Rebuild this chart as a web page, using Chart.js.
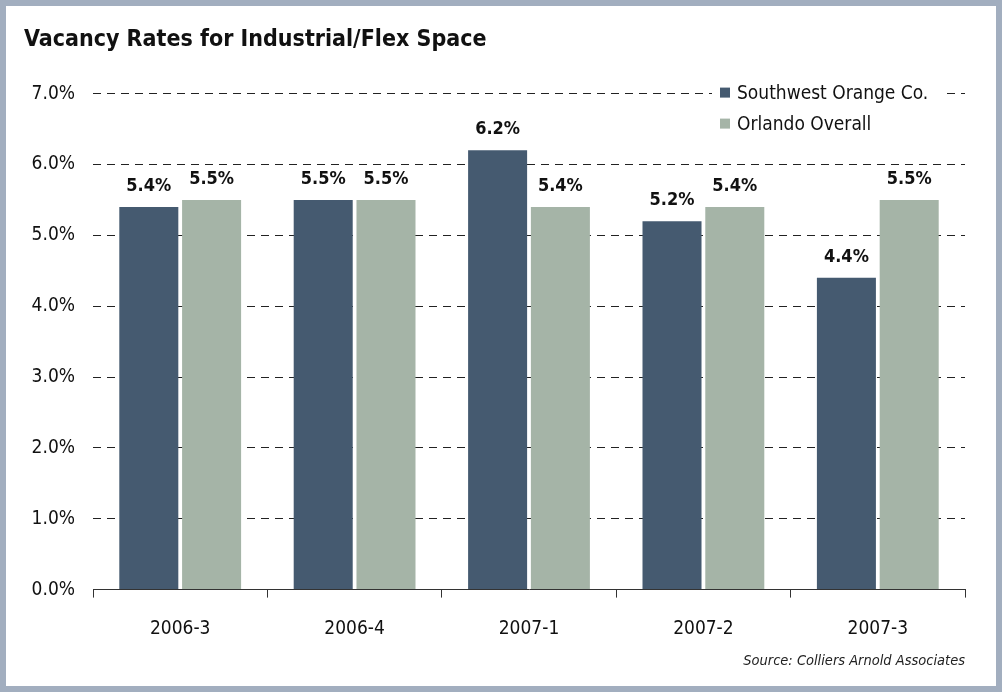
<!DOCTYPE html>
<html>
<head>
<meta charset="utf-8">
<script src="https://cdn.jsdelivr.net/npm/chart.js@4"></script>
<style>
  html, body { margin: 0; padding: 0; background: #fff; }
  #frame {
    width: 990px; height: 680px;
    border: 6px solid #a2aebf;
    background: #fff;
  }
  canvas { display: block; }
</style>
</head>
<body>
<div id="frame"><canvas id="vacancyChart" width="990" height="680"></canvas></div>
<script>
const quarters = ["2006-3", "2006-4", "2007-1", "2007-2", "2007-3"];
const southwestOrange = [5.4, 5.5, 6.2, 5.2, 4.4];
const orlandoOverall = [5.5, 5.5, 5.4, 5.4, 5.5];
const seriesNames = ["Southwest Orange Co.", "Orlando Overall"];
const seriesColors = ["#455a70", "#a5b4a7"];

const FONT = "'Liberation Sans Narrow', 'DejaVu Sans Condensed', 'Liberation Sans', sans-serif";

// value labels over each bar
const barLabels = {
  id: "barLabels",
  afterDatasetsDraw(chart) {
    const ctx = chart.ctx;
    ctx.save();
    ctx.font = "bold 18px " + FONT;
    ctx.fillStyle = "#111";
    ctx.textAlign = "center";
    ctx.textBaseline = "bottom";
    chart.data.datasets.forEach((ds, i) => {
      chart.getDatasetMeta(i).data.forEach((bar, j) => {
        ctx.fillText(ds.data[j].toFixed(1) + "%", bar.x, bar.y - 12);
      });
    });
    ctx.restore();
  }
};

// legend box sitting on top of the grid, upper right of the plot
const boxLegend = {
  id: "boxLegend",
  afterDraw(chart) {
    const ctx = chart.ctx;
    const area = chart.chartArea;
    const left = area.left + 627;
    const top = area.top - 12;
    ctx.save();
    ctx.font = "19px " + FONT;
    const w = Math.max(...chart.data.datasets.map(d => ctx.measureText(d.label).width)) + 30;
    ctx.fillStyle = "#fff";
    ctx.fillRect(left - 8, top, w + 10, 60);
    ctx.textBaseline = "middle";
    chart.data.datasets.forEach((ds, i) => {
      const y = top + 11 + i * 31;
      ctx.fillStyle = ds.backgroundColor;
      ctx.fillRect(left, y - 5, 10, 10);
      ctx.fillStyle = "#111";
      ctx.fillText(ds.label, left + 17, y + 1);
    });
    ctx.restore();
  }
};

new Chart(document.getElementById("vacancyChart"), {
  type: "bar",
  data: {
    labels: quarters,
    datasets: [
      { label: seriesNames[0], data: southwestOrange, backgroundColor: seriesColors[0] },
      { label: seriesNames[1], data: orlandoOverall, backgroundColor: seriesColors[1] }
    ]
  },
  options: {
    responsive: false,
    animation: false,
    layout: { padding: { left: 18, right: 31, top: 0, bottom: 0 } },
    datasets: { bar: { categoryPercentage: 0.72, barPercentage: 0.94 } },
    plugins: {
      legend: { display: false },
      tooltip: { enabled: false },
      title: {
        display: true,
        text: "Vacancy Rates for Industrial/Flex Space",
        align: "start",
        color: "#111",
        font: { family: FONT, size: 23, weight: "bold" },
        padding: { top: 20, bottom: 40 }
      },
      subtitle: {
        display: true,
        position: "bottom",
        align: "end",
        text: "Source: Colliers Arnold Associates",
        color: "#222",
        font: { family: FONT, size: 14.5, style: "italic" },
        padding: { top: 0, bottom: 16 }
      }
    },
    scales: {
      x: {
        afterFit(scale) { scale.height = 63; },
        grid: { drawOnChartArea: false, drawTicks: true, tickLength: 8, color: "#333", offset: true },
        border: { display: true, color: "#333", width: 1 },
        ticks: { color: "#111", padding: 20, font: { family: FONT, size: 19 } }
      },
      y: {
        min: 0,
        max: 7,
        afterFit(scale) { scale.width = 69; },
        grid: {
          drawTicks: false,
          color: c => (c.tick && c.tick.value === 0 ? "rgba(0,0,0,0)" : "#222"),
          lineWidth: 1
        },
        border: { display: false, dash: [8, 6] },
        ticks: {
          stepSize: 1,
          padding: 18,
          color: "#111",
          font: { family: FONT, size: 19 },
          callback: v => v.toFixed(1) + "%"
        }
      }
    }
  },
  plugins: [barLabels, boxLegend]
});
</script>
</body>
</html>
